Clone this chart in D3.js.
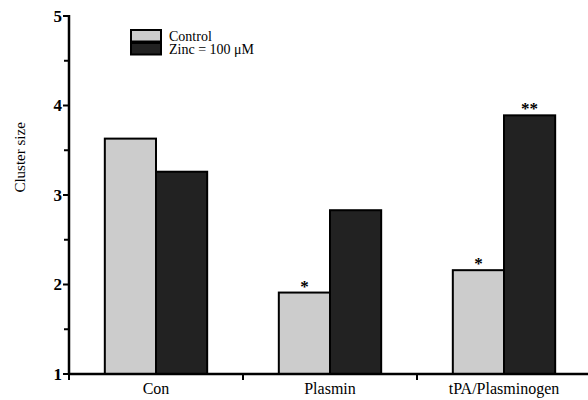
<!DOCTYPE html>
<html>
<head>
<meta charset="utf-8">
<script src="https://cdn.jsdelivr.net/npm/d3@7"></script>
<style>
  body { margin: 0; background: #fff; }
</style>
</head>
<body>
<svg id="chart" width="588" height="400"></svg>
<script>
// data
const categories = ["Con", "Plasmin", "tPA/Plasminogen"];
const seriesNames = ["Control", "Zinc = 100 \u03bcM"];
const controlValues = [3.63, 1.91, 2.16];
const zincValues = [3.26, 2.83, 3.89];
const stars = ["", "*", "*"];
const zincStars = ["", "", "**"];
const yTicks = [1, 2, 3, 4, 5];
const yMinorTicks = [1.5, 2.5, 3.5, 4.5];

const colors = ["#cccccc", "#222222"];
const serif = "'Liberation Serif', 'Times New Roman', 'DejaVu Serif', serif";

const svg = d3.select("#chart").attr("font-family", serif);
const mLeft = 69, mRight = 591, mTop = 16, mBottom = 374;

const y = d3.scaleLinear().domain([1, 5]).range([mBottom, mTop]);
const x0 = d3.scaleBand().domain(categories).range([mLeft, mRight]).padding(0);
const x1 = d3.scaleBand().domain([0, 1]).range([0, x0.bandwidth()]).paddingInner(0).paddingOuter(0.7);

// bars
const groups = svg.selectAll(".grp").data(categories).enter().append("g")
  .attr("transform", d => `translate(${x0(d)},0)`);

groups.each(function(cat, i) {
  const vals = [controlValues[i], zincValues[i]];
  d3.select(this).selectAll("rect").data(vals).enter().append("rect")
    .attr("x", (v, j) => x1(j))
    .attr("y", v => y(v))
    .attr("width", x1.bandwidth())
    .attr("height", v => y(1) - y(v))
    .attr("fill", (v, j) => colors[j])
    .attr("stroke", "#000")
    .attr("stroke-width", 2);
  // significance marks
  d3.select(this).append("text")
    .attr("x", x1(0) + x1.bandwidth() / 2)
    .attr("y", y(controlValues[i]) - 1)
    .attr("text-anchor", "middle")
    .attr("font-size", 17).attr("font-weight", "bold")
    .text(stars[i]);
  d3.select(this).append("text")
    .attr("x", x1(1) + x1.bandwidth() / 2)
    .attr("y", y(zincValues[i]) - 1)
    .attr("text-anchor", "middle")
    .attr("font-size", 17).attr("font-weight", "bold")
    .text(zincStars[i]);
});

// y axis
const yAxis = svg.append("g").attr("transform", `translate(${mLeft},0)`);
yAxis.append("line").attr("x1", 0).attr("x2", 0).attr("y1", y(5) - 1).attr("y2", mBottom + 1)
  .attr("stroke", "#000").attr("stroke-width", 2.5);
yAxis.selectAll(".maj").data(yTicks).enter().append("line")
  .attr("x1", -6).attr("x2", 0).attr("y1", d => y(d)).attr("y2", d => y(d))
  .attr("stroke", "#000").attr("stroke-width", 2);
yAxis.selectAll(".min").data(yMinorTicks).enter().append("line")
  .attr("x1", -5).attr("x2", 0).attr("y1", d => y(d)).attr("y2", d => y(d))
  .attr("stroke", "#000").attr("stroke-width", 2);
yAxis.selectAll(".lab").data(yTicks).enter().append("text")
  .attr("x", -7).attr("y", d => y(d)).attr("dy", "0.35em")
  .attr("text-anchor", "end")
  .attr("font-size", 17).attr("font-weight", "bold")
  .text(d => d);

svg.append("text")
  .attr("transform", `translate(25,${(y(3.42))}) rotate(-90)`)
  .attr("text-anchor", "middle")
  .attr("font-size", 15)
  .text("Cluster size");

// x axis
const xAxis = svg.append("g").attr("transform", `translate(0,${mBottom})`);
xAxis.append("line").attr("x1", mLeft - 1).attr("x2", 588).attr("y1", 0).attr("y2", 0)
  .attr("stroke", "#000").attr("stroke-width", 2.5);
xAxis.selectAll(".tk").data(categories).enter().append("line")
  .attr("x1", d => x0(d)).attr("x2", d => x0(d)).attr("y1", 0).attr("y2", 6)
  .attr("stroke", "#000").attr("stroke-width", 2);
xAxis.selectAll(".lab").data(categories).enter().append("text")
  .attr("x", d => x0(d) + x0.bandwidth() / 2).attr("y", 20)
  .attr("text-anchor", "middle")
  .attr("font-size", 16)
  .text(d => d);

// legend
const legend = svg.append("g").attr("transform", "translate(131,30)");
seriesNames.forEach((name, i) => {
  legend.append("rect").attr("x", 0).attr("y", i * 13).attr("width", 30).attr("height", 11.5)
    .attr("fill", colors[i]).attr("stroke", "#000").attr("stroke-width", 2);
  legend.append("text").attr("x", 38).attr("y", i * 13 + 11)
    .attr("font-size", 14)
    .text(name);
});
</script>
</body>
</html>
